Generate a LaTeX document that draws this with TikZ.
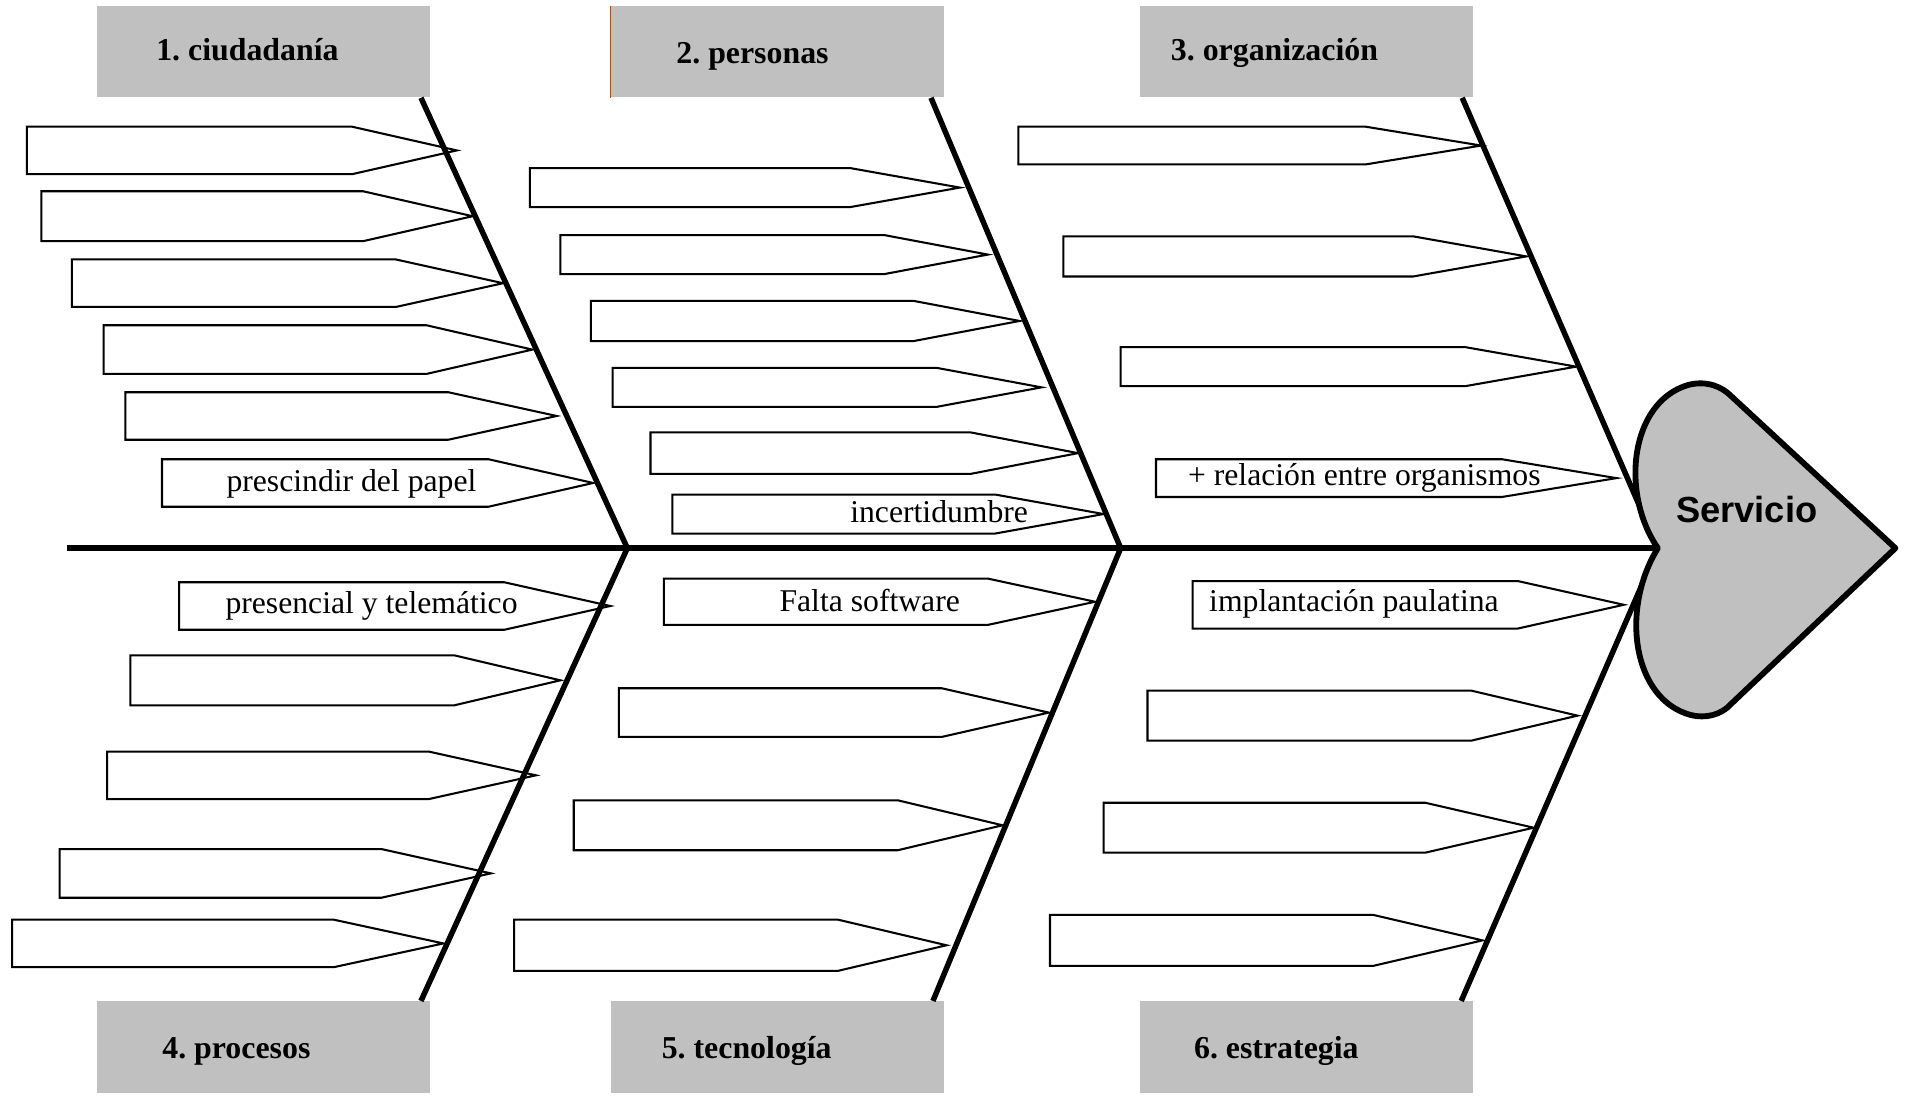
\documentclass[tikz,border=0pt]{standalone}
\usepackage{fontspec}
\setmainfont{Liberation Serif}
\setsansfont{Liberation Sans}
\definecolor{gris}{HTML}{C0C0C0}
\definecolor{canto}{HTML}{A0521E}
\frenchspacing

\begin{document}
\begin{tikzpicture}[x=0.25mm, y=-0.25mm,
    cabeza/.style={fill=gris, minimum width=68.4mm, minimum height=18.75mm, inner sep=0pt},
    titulo/.style={anchor=west, inner sep=0pt, text height=0.69em, text depth=0.22em,
        font=\fontsize{18.6pt}{22pt}\selectfont\bfseries},
    texto/.style={inner sep=0pt, text height=0.69em, text depth=0.22em,
        font=\fontsize{18.5pt}{22pt}\selectfont},
    causa/.style={draw, line width=1.2pt},
    espina/.style={line width=3.2pt},
    lomo/.style={line width=3.6pt}]
    \useasboundingbox (0,0) rectangle (1568,900);
    % categorias
    \path (216.5,42.5) node[cabeza](h1){}
        (638,42.5) node[cabeza](h2){}
        (1072.5,42.5) node[cabeza](h3){}
        (216.5,859.5) node[cabeza](h4){}
        (638,859.5) node[cabeza](h5){}
        (1072.5,859.5) node[cabeza](h6){};
    \draw[canto, line width=0.6pt] (h2.north west) -- (h2.south west);
    \path (128,46) node[titulo](t1){1. ciudadanía}
        (555,49) node[titulo](t2){2. personas}
        (961,46) node[titulo](t3){3. organización}
        (133,866) node[titulo](t4){4. procesos}
        (543,866) node[titulo](t5){5. tecnología}
        (980,866) node[titulo](t6){6. estrategia};
    % causas: nombre/izquierda/arriba/abajo/bisel/punta
    \foreach \n/\l/\t/\b/\p/\q in {
        a1/22/104/143/289/375, a2/34/157/198/298/388, a3/59/213/252/325/413,
        a4/85/267/307/350/437, a5/103/322/361/368/457, a6/133/377/416/401/487,
        b1/435/138/170/698/788, b2/460/193/225/726/811, b3/485/247/280/750/837,
        b4/503/302/334/769/855, b5/534/355/389/797/885, b6/552/406/438/817/906,
        c1/836/104/135/1121/1216, c2/873/194/227/1160/1253,
        c3/920/285/317/1203/1294, c4/949/377/408/1233/1327,
        d1/147/478/517/414/501, d2/107/538/579/373/460, d3/88/617/656/352/440,
        d4/49/697/737/313/403, d5/10/755/794/274/364,
        e1/545/475/513/811/899, e2/508/565/605/773/861,
        e3/471/657/698/737/823, e4/422/755/797/688/777,
        f1/979/477/516/1246/1333, f2/942/567/608/1208/1295,
        f3/906/659/700/1170/1259, f4/862/751/793/1127/1217}{
        \coordinate (\n) at (\q,{(\t+\b)/2});
        \draw[causa] (\l,\t) -- (\p,\t) -- (\n) -- (\p,\b) -- (\l,\b) -- cycle;
    }
    \path (288.5,400) node[texto](x1){prescindir del papel}
        (771,426) node[texto](x2){incertidumbre}
        (1120,395) node[texto](x3){+ relación entre organismos}
        (305,500) node[texto](x4){presencial y telemático}
        (714,499) node[texto](x5){Falta software}
        (1111.5,499) node[texto](x6){implantación paulatina};
    % espinas
    \coordinate (cola) at (55,450);
    \coordinate (j1) at (515,450);
    \coordinate (j2) at (920,450);
    \coordinate (j3) at (1361,450);
    \draw[lomo] (cola) -- (j3);
    \draw[espina] ([xshift=-2mm]h1.south east) -- (j1) -- ([xshift=-2mm]h4.north east);
    \draw[espina] ([xshift=-2.7mm]h2.south east) -- (j2) -- ([xshift=-2.3mm]h5.north east);
    \draw[espina] ([xshift=-2.3mm]h3.south east) -- (j3) -- ([xshift=-2.5mm]h6.north east);
    % efecto
    \draw[line width=3.4pt, fill=gris, line join=round] (j3)
        .. controls (1330,405) and (1338,330) .. (1386,316)
        .. controls (1402,312) and (1414,318) .. (1421,325)
        -- (1556,450) -- (1421,578)
        .. controls (1413,587) and (1400,590) .. (1388,587)
        .. controls (1340,574) and (1330,500) .. (j3) -- cycle;
    \node[font=\sffamily\bfseries\fontsize{21.2pt}{25pt}\selectfont] (serv) at (1434,418) {Servicio};
\end{tikzpicture}
\end{document}
